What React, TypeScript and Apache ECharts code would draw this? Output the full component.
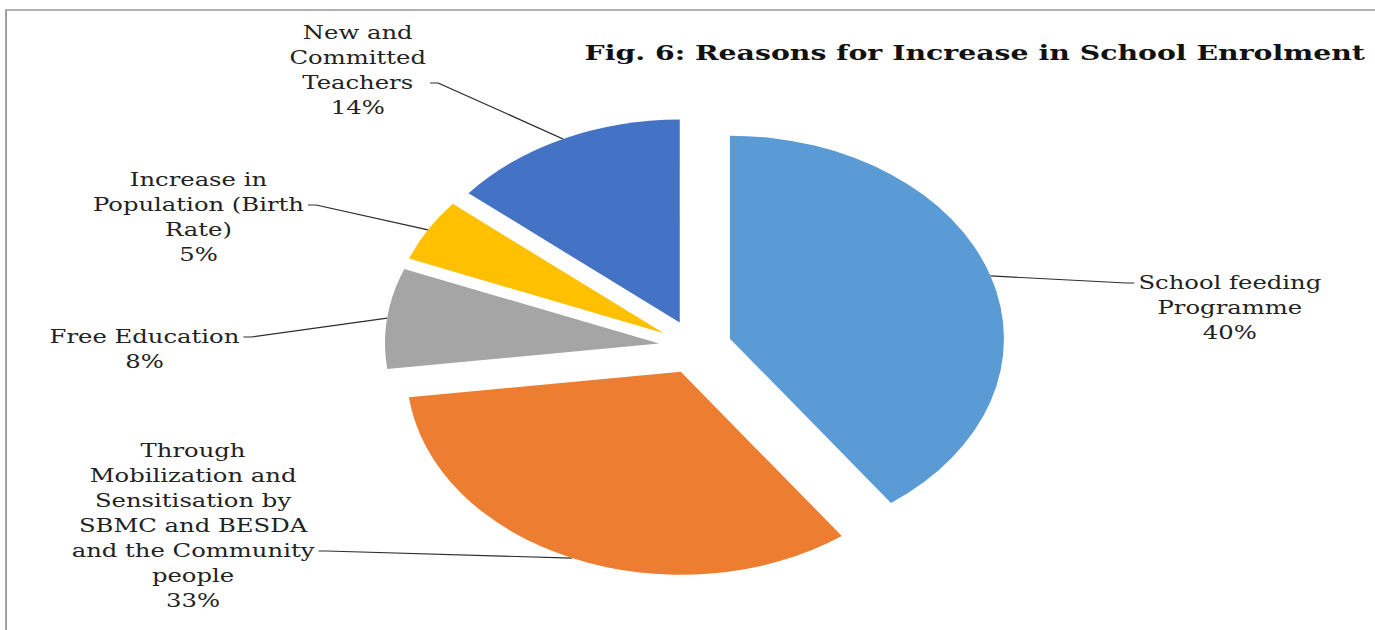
import React, { useEffect, useRef } from "react";
import * as echarts from "echarts";

// ---- data ----
const TITLE = "Fig. 6: Reasons for Increase in School Enrolment";
const categories = [
  "School feeding Programme",
  "Through Mobilization and Sensitisation by SBMC and BESDA and the Community people",
  "Free Education",
  "Increase in Population (Birth Rate)",
  "New and Committed Teachers",
];
const values = [40, 33, 8, 5, 14];
const colors = ["#5B9BD5", "#ED7D31", "#A5A5A5", "#FFC000", "#4472C4"];
const labelLines = [
  ["School feeding", "Programme"],
  ["Through", "Mobilization and", "Sensitisation by", "SBMC and BESDA", "and the Community", "people"],
  ["Free Education"],
  ["Increase in", "Population (Birth", "Rate)"],
  ["New and", "Committed", "Teachers"],
];

// ---- layout (unstretched coordinates) ----
const STRETCH = 1.35;
const W = 1019;
const H = 630;
const LH = 25;
const CENTER = [515, 347];
const RADIUS = 203;
const EXPLODE = 27;
// x: label block centre, y: the row the leader line meets, row: index of that row
const labelPos = [
  { x: 911, y: 283, row: 0, side: "right" },
  { x: 143, y: 551, row: 4, side: "left" },
  { x: 107, y: 337, row: 0, side: "left" },
  { x: 147, y: 205, row: 1, side: "left" },
  { x: 265, y: 83, row: 2, side: "left" },
];

function blockCenterY(i: number): number {
  const n = labelLines[i].length + 1;
  const r = labelPos[i].row;
  return labelPos[i].y + LH * ((n - 1) / 2 - r);
}

function buildSeries() {
  const total = values.reduce((a, b) => a + b, 0);
  let cum = 0;
  return values.map((v, i) => {
    const mid = ((cum + v / 2) / total) * Math.PI * 2;
    cum += v;
    const cx = CENTER[0] + Math.sin(mid) * EXPLODE;
    const cy = CENTER[1] - Math.cos(mid) * EXPLODE;
    return {
      type: "pie",
      center: [cx, cy],
      radius: RADIUS,
      startAngle: 90,
      clockwise: true,
      silent: true,
      emphasis: { disabled: true },
      avoidLabelOverlap: false,
      minShowLabelAngle: 0,
      itemStyle: { borderWidth: 0 },
      label: {
        show: false,
        position: "outside",
        fontFamily: "DejaVu Serif",
        fontSize: 18,
        lineHeight: LH,
        color: "#222222",
        align: "center",
        formatter: (p: any) =>
          labelLines[p.dataIndex].join("\n") + "\n" + Math.round(p.percent) + "%",
      },
      labelLine: {
        show: false,
        length: 10,
        length2: 5,
        lineStyle: { color: "#2e2e2e", width: 1.2 },
      },
      labelLayout: (p: any) => {
        const pos = labelPos[p.dataIndex];
        const w = p.labelRect.width;
        const edgeX = pos.side === "left" ? pos.x + w / 2 + 3 : pos.x - w / 2 - 3;
        const tailX = pos.side === "left" ? edgeX + 6 : edgeX - 6;
        const start = p.labelLinePoints ? p.labelLinePoints[0] : [tailX, pos.y];
        return {
          x: pos.x,
          y: blockCenterY(p.dataIndex),
          align: "center",
          verticalAlign: "middle",
          labelLinePoints: [start, [tailX, pos.y], [edgeX, pos.y]],
        };
      },
      data: categories.map((name, j) => ({
        name,
        value: values[j],
        itemStyle: { color: j === i ? colors[j] : "rgba(0,0,0,0)" },
        label: { show: j === i },
        labelLine: { show: j === i },
      })),
    };
  });
}

export default function App() {
  const ref = useRef<HTMLDivElement>(null);
  useEffect(() => {
    if (!ref.current) return;
    const chart = echarts.init(ref.current, null, { renderer: "svg" });
    chart.setOption({
      animation: false,
      backgroundColor: "#ffffff",
      title: {
        text: TITLE,
        left: 428,
        top: 37,
        textStyle: {
          fontFamily: "DejaVu Serif",
          fontWeight: "bold",
          fontSize: 21,
          color: "#111111",
        },
      },
      graphic: [
        {
          type: "rect",
          shape: { x: 4.5, y: 10, width: 2000, height: 1000 },
          style: { fill: "none", stroke: "#9a9a9a", lineWidth: 1.4 },
          silent: true,
        },
      ],
      series: buildSeries(),
    });
    return () => chart.dispose();
  }, []);
  return (
    <div
      style={{
        position: "fixed",
        left: 0,
        top: 0,
        width: 1375,
        height: H,
        overflow: "hidden",
        background: "#fff",
      }}
    >
      <div
        ref={ref}
        style={{
          width: W,
          height: H,
          transform: `scaleX(${STRETCH})`,
          transformOrigin: "0 0",
        }}
      />
    </div>
  );
}
